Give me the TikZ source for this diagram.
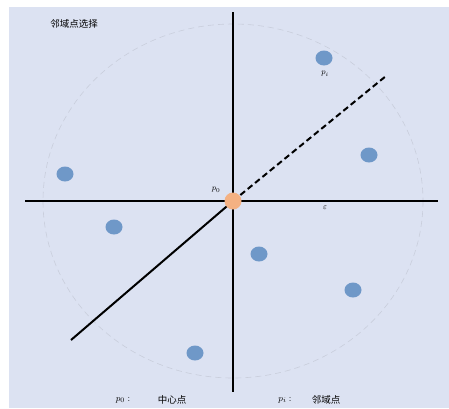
\documentclass[tikz,border=0pt]{standalone}
\usepackage{fontspec}
\newfontfamily\cjk{Noto Sans CJK SC}
\definecolor{bgc}{HTML}{DCE2F2}
\definecolor{dotc}{HTML}{6F98C8}
\definecolor{orc}{HTML}{F4B183}
\definecolor{circc}{HTML}{C9CEDC}
\tikzset{
  axis/.style={line width=2pt, black},
  nbr/.style={ellipse, fill=dotc, minimum width=17pt, minimum height=15pt, inner sep=0pt},
  lbl/.style={font=\fontsize{8}{9}\selectfont, inner sep=1pt},
  keyl/.style={font=\fontsize{9.5}{10}\selectfont, inner sep=1pt},
  cn/.style={font=\cjk\fontsize{9.5}{10}\selectfont, inner sep=1pt}
}
\usetikzlibrary{shapes.geometric}
\begin{document}
\begin{tikzpicture}[x=1pt,y=-1pt]
\useasboundingbox (0,0) rectangle (449,408);
\fill[bgc] (9,7) rectangle (449,408);
\draw[circc, dash pattern=on 6pt off 4pt, line width=0.6pt] (233,201) ellipse [x radius=190, y radius=177];
\coordinate (top) at (233,12);
\coordinate (bot) at (233,392);
\coordinate (lft) at (25,201);
\coordinate (rgt) at (438,201);
\coordinate (ne) at (386,76);
\coordinate (sw) at (71,340);
\coordinate (c) at (233,201);
\draw[axis] (top) -- (bot);
\draw[axis] (lft) -- (rgt);
\draw[axis, dash pattern=on 6pt off 3.5pt] (c) -- (ne);
\draw[axis] (c) -- (sw);
\node[circle, fill=orc, minimum size=17pt, inner sep=0pt] (p0) at (c) {};
\node[nbr] (n1) at (324,58) {};
\node[nbr] (n2) at (369,155) {};
\node[nbr] (n3) at (65,174) {};
\node[nbr] (n4) at (114,227) {};
\node[nbr] (n5) at (195,353) {};
\node[nbr] (n6) at (259,254) {};
\node[nbr] (n7) at (353,290) {};
\node[lbl] (lpi) at (325,74) {$p_i$};
\node[lbl] (lp0) at (216,190) {$p_0$};
\node[lbl] (eps) at (325,208) {$\varepsilon$};
\node[cn] (title) at (74,24) {邻域点选择};
\node[keyl] (k0) at (123,400) {$p_0$\;:};
\node[cn] (v0) at (172,400) {中心点};
\node[keyl] (k1) at (285,400) {$p_i$\;:};
\node[cn] (v1) at (326,400) {邻域点};
\end{tikzpicture}
\end{document}
